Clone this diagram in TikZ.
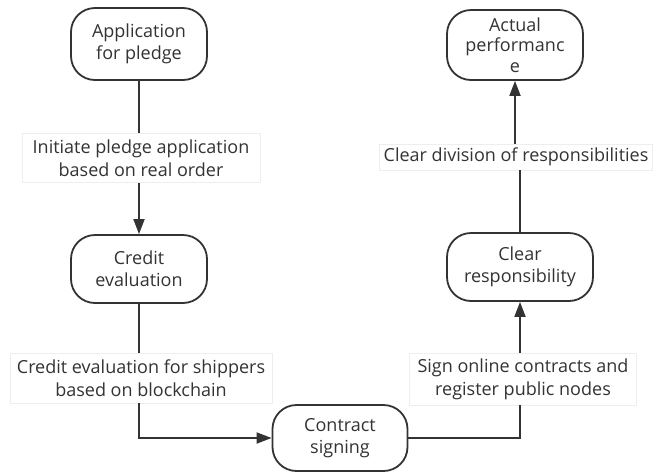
\documentclass[tikz,border=0pt]{standalone}
\usepackage{fontspec}
\setmainfont{Open Sans}
\usepackage{xcolor}
\usepackage{tikz}
\usetikzlibrary{arrows.meta, positioning}
\definecolor{linegray}{HTML}{333333}
\definecolor{boxgray}{HTML}{EEEEEE}

\begin{document}
\begin{tikzpicture}[x=1pt,y=-1pt]
\tikzstyle{stage}=[draw=linegray,line width=1.8pt,rounded corners=24pt,fill=white,align=center,text=linegray,font=\fontsize{18}{22}\selectfont,inner sep=1pt]
\tikzstyle{note}=[draw=boxgray,line width=0.5pt,fill=white,align=center,text=linegray,font=\fontsize{18}{23}\selectfont,inner sep=2pt]
\tikzstyle{link}=[draw=linegray,line width=1.8pt]
\tikzstyle{arr}=[link,-{Triangle[length=15pt,width=11pt]}]

\useasboundingbox (0,0) rectangle (654,472);

% Left column
\node[stage,minimum width=136pt,minimum height=72pt] (app) at (139,44) {Application\\for pledge};
\node[stage,minimum width=136pt,minimum height=68pt] (credit) at (139,269) {Credit\\evaluation};
% Bottom
\node[stage,minimum width=135pt,minimum height=66pt] (contract) at (340,438) {Contract\\signing};
% Right column
\node[stage,minimum width=146pt,minimum height=68pt] (clear) at (520,267) {Clear\\responsibility};
\node[stage,minimum width=136pt,minimum height=70pt,font=\fontsize{18}{20.5}\selectfont] (actual) at (515,45) {Actual\\performanc\\e};

% Labels on the connectors
\node[note,minimum width=238pt,minimum height=49pt] (initiate) at (141,158) {Initiate pledge application\\based on real order};
\node[note,minimum width=262pt,minimum height=50pt] (shippers) at (141,378) {Credit evaluation for shippers\\based on blockchain};
\node[note,minimum width=227pt,minimum height=52pt] (online) at (523,379) {Sign online contracts and\\register public nodes};
\node[note,minimum width=273pt,minimum height=26pt] (division) at (516,157) {Clear division of responsibilities};

\draw[link] (app.south) -- (initiate.north -| app);
\draw[arr] (initiate.south -| app) -- (credit.north);
\draw[link] (credit.south) -- (shippers.north -| credit);
\draw[arr] (shippers.south -| credit) |- (contract.west);
\draw[link] (contract.east) -| (online.south -| clear);
\draw[arr] (online.north -| clear) -- (clear.south);
\draw[link] (clear.north) -- (division.south -| clear);
\draw[arr] (division.north -| actual) -- (actual.south);

\end{tikzpicture}
\end{document}
